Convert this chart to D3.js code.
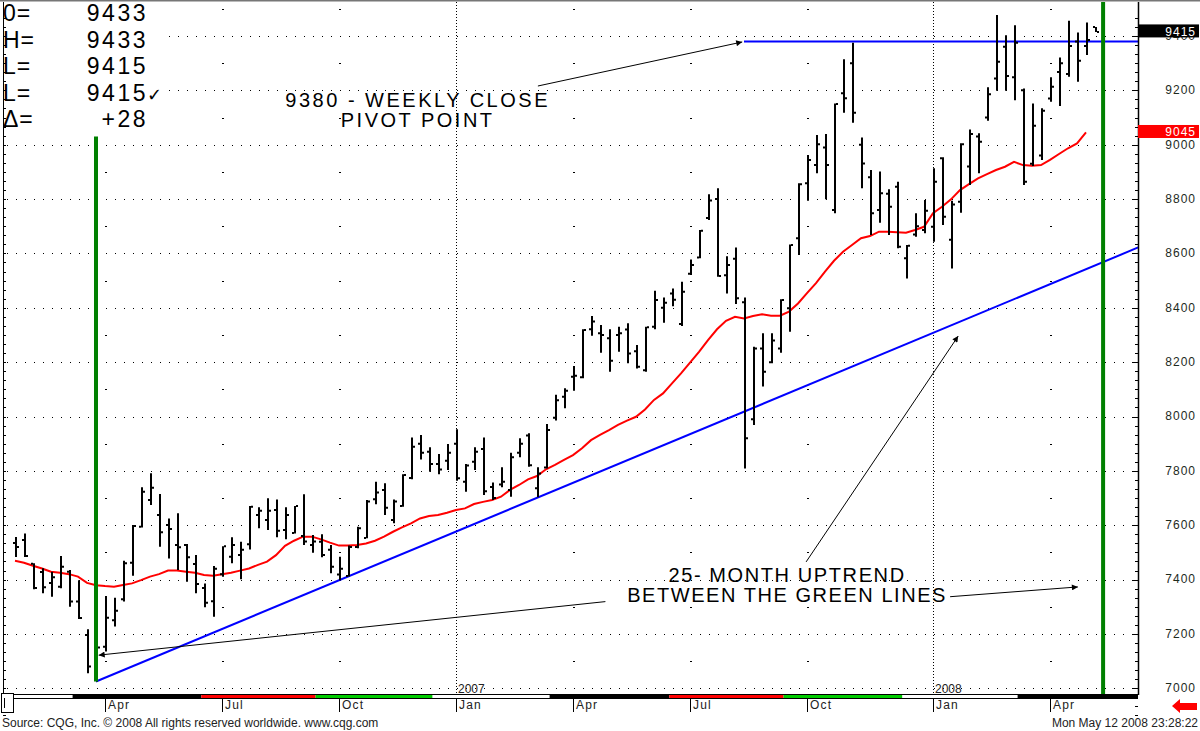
<!DOCTYPE html>
<html>
<head>
<meta charset="utf-8">
<script src="https://cdn.jsdelivr.net/npm/d3@7"></script>
<style>
body { margin: 0; background: #fff; }
svg { display: block; font-family: "Liberation Sans", Arial, sans-serif; }
</style>
</head>
<body>
<svg id="chart" width="1200" height="731"></svg>
<script>
'use strict';

// weekly bars, one per week, index 0 = last week of Jan 2006
var opens = [7535,7546,7458,7428,7387,7374,7429,7319,7196,7070,
	7153,7250,7328,7462,7594,7693,7638,7601,7527,7527,
	7457,7369,7320,7420,7484,7490,7530,7638,7619,7656,
	7582,7571,7560,7527,7539,7510,7419,7413,7520,7553,
	7696,7730,7619,7671,7774,7900,7870,7825,7837,7900,
	7760,7834,7880,7741,7750,7730,7867,7930,7736,7812,
	7995,8073,8146,8144,8321,8306,8288,8300,8320,8240,
	8170,8330,8400,8453,8340,8525,8585,8730,8800,8520,
	8580,8420,7990,8250,8200,8250,8398,8656,8858,8925,
	8990,8760,9189,9300,9000,8880,8760,8820,8845,8582,
	8670,8686,8698,8950,8650,8790,8920,9030,9100,9244,
	9360,9248,9200,8930,8960,9170,9268,9260,9380,9363,
	9433];
var highs = [7557,7570,7460,7442,7429,7487,7435,7398,7217,7180,
	7340,7333,7469,7601,7740,7791,7715,7625,7644,7531,
	7490,7386,7450,7523,7556,7539,7671,7666,7699,7695,
	7666,7671,7714,7564,7567,7527,7484,7525,7594,7693,
	7760,7754,7695,7788,7923,7932,7887,7862,7899,7953,
	7825,7887,7923,7757,7813,7867,7920,7938,7813,7972,
	8080,8104,8186,8321,8370,8337,8321,8330,8343,8263,
	8330,8463,8438,8471,8496,8578,8686,8818,8840,8590,
	8622,8438,8257,8306,8306,8431,8633,8858,8962,9036,
	9039,9152,9314,9375,9027,8907,8901,8836,8864,8631,
	8748,8797,8913,8954,8794,9005,9056,9042,9211,9477,
	9403,9440,9207,9152,9134,9248,9321,9456,9413,9450,
	9433];
var lows = [7483,7483,7364,7350,7337,7368,7300,7255,7055,7025,
	7135,7227,7319,7414,7592,7674,7521,7478,7435,7392,
	7350,7298,7263,7410,7460,7401,7511,7589,7582,7556,
	7548,7570,7527,7499,7482,7423,7398,7411,7515,7552,
	7677,7638,7607,7668,7769,7842,7797,7788,7803,7764,
	7723,7803,7711,7693,7740,7705,7850,7815,7703,7809,
	7985,8030,8095,8141,8297,8235,8165,8238,8196,8177,
	8165,8321,8345,8406,8333,8521,8582,8723,8514,8453,
	8414,7809,7969,8110,8196,8235,8312,8594,8794,8895,
	8799,8748,9118,9081,8840,8668,8713,8668,8619,8508,
	8661,8674,8643,8705,8545,8750,8852,8895,9088,9199,
	9199,9164,8852,8922,8944,9158,9142,9250,9232,9330,
	9415];
var closes = [7520,7487,7369,7372,7409,7447,7319,7259,7080,7150,
	7260,7285,7460,7597,7723,7738,7574,7586,7519,7482,
	7384,7315,7440,7523,7527,7510,7668,7653,7653,7580,
	7638,7671,7540,7540,7490,7447,7440,7520,7589,7687,
	7720,7664,7687,7785,7889,7867,7825,7805,7867,7773,
	7820,7870,7725,7700,7760,7850,7900,7821,7790,7950,
	8060,8095,8150,8318,8350,8300,8205,8306,8232,8183,
	8328,8429,8419,8430,8459,8557,8683,8795,8517,8557,
	8435,7920,8250,8165,8280,8429,8631,8855,8944,9002,
	8925,9150,9171,9118,8931,8748,8821,8772,8625,8628,
	8700,8757,8864,8735,8780,9002,9039,9011,9186,9305,
	9253,9375,8864,9070,9125,9213,9300,9363,9309,9385,
	9415];

// red moving average (bars 0..119)
var avgLine = [7469,7462,7451,7441,7429,7425,7420,7411,7388,7379,
	7376,7374,7380,7386,7398,7411,7420,7433,7433,7429,
	7425,7417,7414,7420,7425,7433,7441,7454,7466,7490,
	7524,7543,7558,7558,7548,7536,7525,7525,7527,7533,
	7543,7558,7576,7592,7607,7625,7634,7638,7646,7656,
	7662,7678,7686,7693,7705,7730,7748,7769,7781,7806,
	7822,7840,7858,7883,7913,7932,7950,7969,7985,7999,
	8026,8061,8085,8122,8159,8198,8238,8281,8321,8352,
	8367,8361,8370,8376,8371,8371,8386,8416,8454,8491,
	8533,8573,8606,8631,8656,8664,8680,8680,8678,8676,
	8686,8698,8748,8772,8799,8833,8855,8876,8892,8907,
	8919,8937,8925,8923,8925,8944,8966,8987,9005,9045];

var tickIdx = [10, 23, 36, 49, 62, 75, 88, 102, 115];
var tickLabels = ['Apr', 'Jul', 'Oct', 'Jan', 'Apr', 'Jul', 'Oct', 'Jan', 'Apr'];
var yearIdx = [49, 102];
var yearLabels = ['2007', '2008'];
var priceTicks = [7000, 7200, 7400, 7600, 7800, 8000, 8200, 8400, 8600, 8800, 9000, 9200, 9400];

// quarter strip under the plot
var stripBreaks = [-0.1, 6.4, 20.7, 33.4, 46.4, 59.4, 72.7, 85.4, 98.6, 111.4, 124.8];
var stripColors = ['#fff', '#000', '#f00', '#0c0', '#fff', '#000', '#f00', '#0c0', '#fff', '#000'];

var trend = [{i: 9, p: 7025}, {i: 124.8, p: 8622}];
var pivot = [{i: 81, p: 9380}, {i: 124.8, p: 9380}];
var greenIdx = [9, 120.9];
var greenTop = [9030, 9530];

var infoLabels = ['0=', 'H=', 'L=', 'L=', '\u0394='];
var infoValues = ['9433', '9433', '9415', '9415', '+28'];
var infoMarks = ['', '', '', '\u2713', ''];

var lastPrice = 9415, lastAvg = 9045;

var svg = d3.select('#chart');
var plot = {left: 3, right: 1138, top: 2, bottom: 695};

var x = d3.scaleLinear().domain([0, 120]).range([15, 1095]);
var y = d3.scaleLinear().domain([7000, 9400]).range([688.3, 36]);

svg.append('defs').append('clipPath').attr('id', 'clip')
	.append('rect').attr('x', plot.left).attr('y', plot.top)
	.attr('width', plot.right - plot.left).attr('height', plot.bottom - plot.top);

var mk = svg.select('defs').append('marker').attr('id', 'arrow')
	.attr('viewBox', '0 0 10 10').attr('refX', 10).attr('refY', 5)
	.attr('markerWidth', 9).attr('markerHeight', 6).attr('orient', 'auto')
	.attr('markerUnits', 'userSpaceOnUse');
mk.append('path').attr('d', 'M0,0L10,5L0,10z').attr('fill', '#000');

svg.append('line').attr('x1', 0).attr('x2', 1200).attr('y1', 0.5).attr('y2', 0.5)
	.attr('stroke', '#777').attr('stroke-width', 2);

var g = svg.append('g').attr('clip-path', 'url(#clip)');

// dotted grid
g.selectAll('.hgrid').data(priceTicks).join('line')
	.attr('x1', 7).attr('x2', plot.right)
	.attr('y1', function (d) { return Math.round(y(d)) + 0.5; })
	.attr('y2', function (d) { return Math.round(y(d)) + 0.5; })
	.attr('stroke', '#000').attr('stroke-dasharray', '1,8');

g.selectAll('.ygrid').data(yearIdx).join('line')
	.attr('x1', function (d) { return Math.round(x(d)) + 0.5; })
	.attr('x2', function (d) { return Math.round(x(d)) + 0.5; })
	.attr('y1', plot.top).attr('y2', plot.bottom)
	.attr('stroke', '#000').attr('stroke-dasharray', '1,2');

var oddLevels = d3.range(7100, 9600, 200);
tickIdx.forEach(function (t, k) {
	if (tickLabels[k] === 'Jan') return;
	g.selectAll(null).data(oddLevels).join('rect')
		.attr('x', Math.round(x(t))).attr('y', function (d) { return Math.round(y(d)); })
		.attr('width', 2).attr('height', 1).attr('fill', '#000');
});

// moving average
g.append('path').datum(avgLine)
	.attr('d', d3.line().x(function (d, i) { return x(i); }).y(function (d) { return y(d); }))
	.attr('fill', 'none').attr('stroke', '#f00').attr('stroke-width', 2);

// trend and pivot lines
var lineP = d3.line().x(function (d) { return x(d.i); }).y(function (d) { return y(d.p); });
g.append('path').datum(trend).attr('d', lineP)
	.attr('fill', 'none').attr('stroke', '#00f').attr('stroke-width', 2);
g.append('path').datum(pivot).attr('d', lineP)
	.attr('fill', 'none').attr('stroke', '#00f').attr('stroke-width', 2);

// price bars
var bars = g.selectAll('.bar').data(highs).join('g').attr('class', 'bar');
bars.append('line')
	.attr('x1', function (d, i) { return Math.round(x(i)) + 1; })
	.attr('x2', function (d, i) { return Math.round(x(i)) + 1; })
	.attr('y1', function (d) { return y(d); })
	.attr('y2', function (d, i) { return y(lows[i]); })
	.attr('stroke', '#000').attr('stroke-width', 2);
bars.append('line')
	.attr('x1', function (d, i) { return Math.round(x(i)) - 2; })
	.attr('x2', function (d, i) { return Math.round(x(i)); })
	.attr('y1', function (d, i) { return y(opens[i]); })
	.attr('y2', function (d, i) { return y(opens[i]); })
	.attr('stroke', '#000').attr('stroke-width', 2);
bars.append('line')
	.attr('x1', function (d, i) { return Math.round(x(i)) + 2; })
	.attr('x2', function (d, i) { return Math.round(x(i)) + 4; })
	.attr('y1', function (d, i) { return y(closes[i]); })
	.attr('y2', function (d, i) { return y(closes[i]); })
	.attr('stroke', '#000').attr('stroke-width', 2);

// green lines
g.selectAll('.green').data(greenIdx).join('line')
	.attr('x1', function (d) { return x(d); }).attr('x2', function (d) { return x(d); })
	.attr('y1', function (d, k) { return y(greenTop[k]); })
	.attr('y2', function (d, k) { return k === 0 ? y(trend[0].p) : plot.bottom; })
	.attr('stroke', '#008000').attr('stroke-width', 4);

// annotations
var arrows = [
	[{i: 58.1, p: 9216}, {i: 80.8, p: 9378}],
	[{i: 87.9, p: 7465}, {i: 104.8, p: 8296}],
	[{i: 65.6, p: 7319}, {i: 9.3, p: 7122}],
	[{i: 103.9, p: 7337}, {i: 118.1, p: 7373}]
];
svg.selectAll('.arrow').data(arrows).join('path')
	.attr('d', lineP).attr('stroke', '#000').attr('stroke-width', 1)
	.attr('fill', 'none').attr('marker-end', 'url(#arrow)');

var notes = [
	{i: 44.6, p: 9137, t: '9380 - WEEKLY CLOSE', ls: 2.5},
	{i: 44.6, p: 9066, t: 'PIVOT POINT', ls: 2.5},
	{i: 85.7, p: 7392, t: '25- MONTH UPTREND', ls: 1.6},
	{i: 85.7, p: 7319, t: 'BETWEEN THE GREEN LINES', ls: 1.55}
];
svg.selectAll('.note').data(notes).join('text')
	.attr('x', function (d) { return x(d.i) + d.ls / 2; }).attr('y', function (d) { return y(d.p); })
	.attr('text-anchor', 'middle').attr('font-size', 20)
	.attr('letter-spacing', function (d) { return d.ls; })
	.attr('fill', '#000').text(function (d) { return d.t; });

// info box
svg.append('rect').attr('x', 4).attr('y', 2).attr('width', 160).attr('height', 133).attr('fill', '#fff');
infoLabels.forEach(function (l, k) {
	var by = 21 + k * 26.6;
	svg.append('text').attr('x', 3).attr('y', by).attr('font-size', 23)
		.attr('letter-spacing', 1).text(l);
	svg.append('text').attr('x', 148).attr('y', by).attr('font-size', 23)
		.attr('letter-spacing', 2.5).attr('text-anchor', 'end').text(infoValues[k]);
	if (infoMarks[k])
		svg.append('text').attr('x', 147).attr('y', by).attr('font-size', 18).text(infoMarks[k]);
});

// frame
svg.append('line').attr('x1', 3.5).attr('x2', 3.5).attr('y1', plot.top).attr('y2', plot.bottom)
	.attr('stroke', '#000');
svg.append('line').attr('x1', plot.right + 0.5).attr('x2', plot.right + 0.5)
	.attr('y1', plot.top).attr('y2', plot.bottom).attr('stroke', '#000').attr('stroke-width', 1.5);

var minorTicks = d3.range(7000 - 200 / 6 * 3, 9500, 200 / 6);
svg.selectAll('.lt').data(minorTicks).join('line')
	.attr('x1', 3).attr('x2', 6)
	.attr('y1', function (d) { return Math.round(y(d)) + 0.5; })
	.attr('y2', function (d) { return Math.round(y(d)) + 0.5; })
	.attr('stroke', '#000');
svg.selectAll('.rt').data(minorTicks).join('line')
	.attr('x1', function (d) { return Math.abs((d % 200)) < 1 ? plot.right - 5 : plot.right - 3; })
	.attr('x2', plot.right)
	.attr('y1', function (d) { return Math.round(y(d)) + 0.5; })
	.attr('y2', function (d) { return Math.round(y(d)) + 0.5; })
	.attr('stroke', '#000');

svg.selectAll('.pl').data(priceTicks).join('text')
	.attr('x', 1196).attr('y', function (d) { return y(d) + 3.8; })
	.attr('text-anchor', 'end').attr('font-size', 12).attr('letter-spacing', 1)
	.attr('fill', '#1d2a1d').text(function (d) { return d; });

// last price / average boxes
[{v: lastPrice, c: '#000'}, {v: lastAvg, c: '#f00'}].forEach(function (b) {
	svg.append('rect').attr('x', 1138).attr('y', y(b.v) - 7.5).attr('width', 61).attr('height', 13)
		.attr('fill', b.c);
	svg.append('text').attr('x', 1196).attr('y', y(b.v) + 3.8).attr('text-anchor', 'end')
		.attr('font-size', 12).attr('letter-spacing', 1).attr('fill', '#fff').text(b.v);
});

// bottom strip and time axis
svg.append('line').attr('x1', 14).attr('x2', plot.right).attr('y1', 694.5).attr('y2', 694.5)
	.attr('stroke', '#000');
svg.selectAll('.strip').data(stripColors).join('rect')
	.attr('x', function (d, k) { return Math.max(14, x(stripBreaks[k])); })
	.attr('width', function (d, k) { return Math.min(plot.right, x(stripBreaks[k + 1])) - Math.max(14, x(stripBreaks[k])); })
	.attr('y', 695).attr('height', 3).attr('fill', function (d) { return d; });
svg.append('line').attr('x1', 14).attr('x2', plot.right).attr('y1', 698.5).attr('y2', 698.5)
	.attr('stroke', '#000');
svg.append('rect').attr('x', 1.5).attr('y', 693.5).attr('width', 12).attr('height', 19)
	.attr('fill', '#fff').attr('stroke', '#000');
svg.append('line').attr('x1', 4.5).attr('x2', 4.5).attr('y1', 698).attr('y2', 708).attr('stroke', '#000');

svg.selectAll('.tk').data(tickIdx).join('line')
	.attr('x1', function (d) { return Math.round(x(d)) + 0.5; })
	.attr('x2', function (d) { return Math.round(x(d)) + 0.5; })
	.attr('y1', 699).attr('y2', 712).attr('stroke', '#000');
svg.selectAll('.tl').data(tickIdx).join('text')
	.attr('x', function (d) { return Math.round(x(d)) + 3; }).attr('y', 709)
	.attr('font-size', 12).attr('letter-spacing', 1.2).attr('fill', '#222')
	.text(function (d, k) { return tickLabels[k]; });
svg.selectAll('.yl').data(yearIdx).join('text')
	.attr('x', function (d) { return Math.round(x(d)) + 2; }).attr('y', 693)
	.attr('font-size', 12).attr('fill', '#222')
	.text(function (d, k) { return yearLabels[k]; });

svg.append('path').attr('d', 'M1172,706L1180,699L1180,703L1197,703L1197,710L1180,710L1180,713Z')
	.attr('fill', '#f00');

svg.append('text').attr('x', 2).attr('y', 727).attr('font-size', 12).attr('fill', '#222')
	.text('Source: CQG, Inc. \u00a9 2008 All rights reserved worldwide. www.cqg.com');
svg.append('text').attr('x', 1198).attr('y', 727).attr('font-size', 12).attr('fill', '#222')
	.attr('text-anchor', 'end').text('Mon May 12 2008 23:28:22');
</script>
</body>
</html>
